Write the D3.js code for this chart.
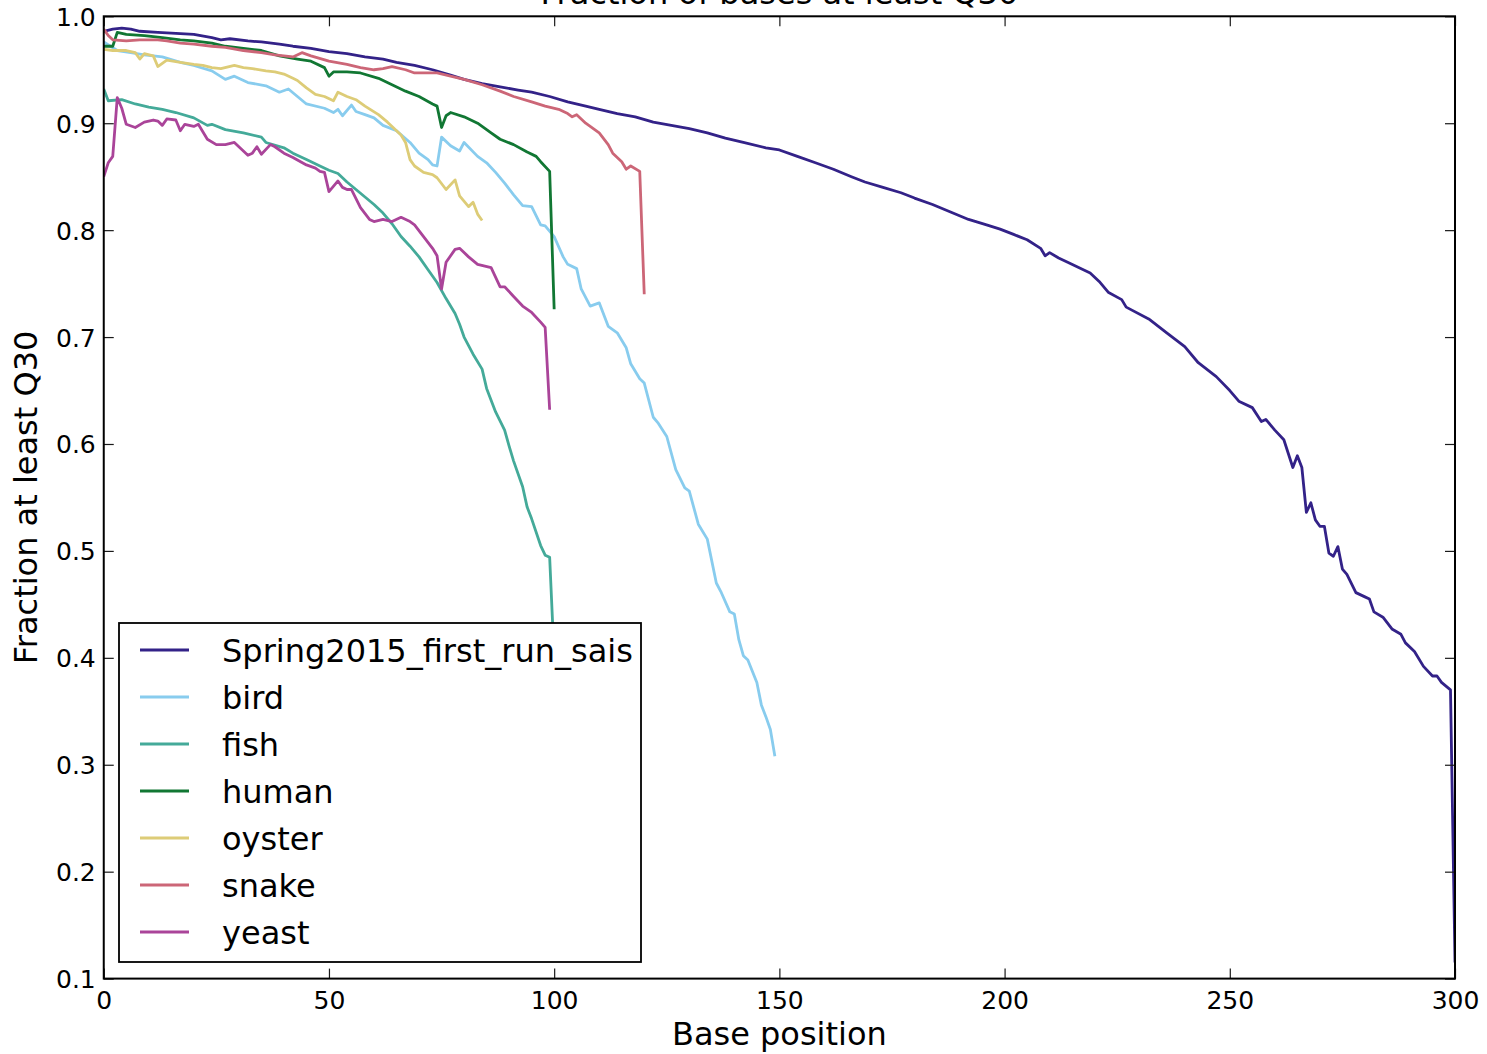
<!DOCTYPE html>
<html>
<head>
<meta charset="utf-8">
<script src="https://cdn.jsdelivr.net/npm/d3@7"></script>
<style>
  html, body { margin: 0; padding: 0; background: #fff; }
  svg { display: block; font-family: "DejaVu Sans", sans-serif; }
</style>
</head>
<body>
<svg id="chart" width="1487" height="1054"></svg>
<script>
// Per-base fraction of reads at or above Q30, one [position, fraction] list per sample.
const spring2015 = [[0,0.986],[2,0.988],[4,0.989],[6,0.988],[8,0.986],[12,0.985],[16,0.984],[20,0.983],[24,0.980],[26,0.978],[28,0.979],[32,0.977],[35,0.976],[39,0.974],[42,0.972],[46,0.970],[50,0.967],[54,0.965],[58,0.962],[62,0.960],[65,0.957],[69,0.954],[73,0.950],[77,0.945],[80,0.941],[84,0.937],[88,0.934],[92,0.931],[95,0.929],[99,0.925],[103,0.920],[107,0.916],[110,0.913],[114,0.909],[118,0.906],[122,0.901],[126,0.898],[130,0.895],[134,0.891],[138,0.886],[142,0.882],[147,0.877],[150,0.875],[154,0.869],[158,0.863],[162,0.857],[166,0.850],[169,0.845],[173,0.840],[177,0.835],[180,0.830],[184,0.824],[188,0.817],[192,0.810],[196,0.805],[199,0.801],[202,0.796],[205,0.791],[208,0.783],[209,0.776],[210,0.779],[212,0.774],[214,0.770],[219,0.760],[221,0.752],[223,0.742],[226,0.735],[227,0.728],[232,0.717],[236,0.704],[240,0.691],[243,0.676],[247,0.663],[250,0.650],[252,0.640],[255,0.634],[257,0.621],[258,0.623],[260,0.613],[262,0.604],[264,0.578],[265,0.589],[266,0.578],[267,0.536],[268,0.545],[269,0.529],[270,0.523],[271,0.523],[272,0.498],[273,0.495],[274,0.504],[275,0.483],[276,0.478],[278,0.461],[280,0.457],[281,0.455],[282,0.443],[284,0.438],[286,0.427],[288,0.422],[289,0.414],[291,0.406],[293,0.392],[295,0.383],[296,0.383],[297,0.377],[299,0.370],[300,0.115]];

const bird = [[0,0.976],[3,0.968],[6,0.966],[9,0.964],[13,0.962],[17,0.957],[20,0.954],[24,0.949],[27,0.941],[29,0.944],[32,0.938],[36,0.935],[39,0.929],[41,0.932],[43,0.925],[45,0.918],[49,0.914],[51,0.910],[52,0.913],[53,0.907],[55,0.917],[56,0.911],[58,0.908],[60,0.905],[62,0.898],[65,0.893],[68,0.882],[70,0.872],[72,0.866],[73,0.861],[74,0.860],[75,0.887],[77,0.879],[79,0.874],[80,0.882],[83,0.869],[85,0.863],[87,0.854],[89,0.844],[91,0.833],[93,0.823],[95,0.822],[97,0.805],[98,0.804],[100,0.794],[102,0.775],[103,0.768],[105,0.764],[106,0.745],[108,0.729],[110,0.732],[112,0.710],[114,0.704],[116,0.690],[117,0.675],[119,0.661],[120,0.657],[122,0.625],[123,0.620],[125,0.607],[127,0.576],[129,0.559],[130,0.556],[132,0.525],[134,0.511],[136,0.470],[137,0.462],[139,0.443],[140,0.441],[141,0.417],[142,0.402],[143,0.398],[145,0.377],[146,0.356],[147,0.345],[148,0.333],[149,0.308]];

const fish = [[0,0.932],[1,0.921],[4,0.922],[7,0.918],[10,0.915],[13,0.913],[16,0.910],[20,0.905],[23,0.898],[24,0.899],[27,0.894],[31,0.891],[35,0.887],[36,0.882],[40,0.877],[42,0.872],[45,0.866],[48,0.860],[50,0.856],[52,0.853],[54,0.845],[56,0.838],[58,0.831],[60,0.824],[62,0.816],[64,0.806],[66,0.794],[68,0.785],[70,0.775],[72,0.763],[74,0.751],[76,0.736],[78,0.722],[79,0.712],[80,0.700],[82,0.684],[84,0.670],[85,0.652],[87,0.630],[89,0.613],[90,0.598],[91,0.584],[93,0.560],[94,0.541],[95,0.530],[97,0.505],[98,0.496],[99,0.494],[100,0.400]];

const human = [[0,0.972],[2,0.972],[3,0.985],[5,0.983],[9,0.982],[13,0.980],[17,0.978],[20,0.977],[24,0.975],[27,0.972],[31,0.970],[35,0.968],[39,0.963],[43,0.960],[46,0.958],[49,0.952],[50,0.944],[51,0.948],[54,0.948],[57,0.947],[61,0.942],[64,0.936],[67,0.930],[70,0.925],[73,0.918],[74,0.916],[75,0.896],[76,0.907],[77,0.910],[80,0.906],[83,0.900],[86,0.891],[88,0.885],[91,0.880],[94,0.873],[96,0.869],[97,0.864],[99,0.855],[100,0.726]];

const oyster = [[0,0.969],[2,0.968],[5,0.968],[7,0.966],[8,0.960],[9,0.965],[11,0.963],[12,0.953],[14,0.959],[17,0.957],[20,0.955],[22,0.954],[24,0.952],[26,0.951],[29,0.954],[31,0.952],[33,0.951],[36,0.949],[38,0.948],[40,0.946],[42,0.942],[43,0.940],[45,0.933],[47,0.927],[49,0.925],[51,0.921],[52,0.929],[54,0.925],[56,0.922],[58,0.916],[61,0.908],[63,0.901],[65,0.893],[66,0.889],[67,0.882],[68,0.866],[69,0.860],[71,0.854],[73,0.852],[74,0.849],[76,0.838],[78,0.847],[79,0.832],[81,0.822],[82,0.826],[83,0.815],[84,0.809]];

const snake = [[0,0.988],[1,0.982],[2,0.978],[5,0.977],[8,0.978],[12,0.978],[14,0.977],[17,0.975],[20,0.974],[24,0.972],[27,0.971],[31,0.968],[35,0.966],[38,0.964],[42,0.962],[44,0.966],[46,0.963],[50,0.958],[54,0.955],[57,0.952],[60,0.950],[62,0.951],[64,0.953],[67,0.950],[69,0.947],[72,0.947],[74,0.947],[77,0.944],[80,0.941],[84,0.936],[88,0.930],[91,0.925],[95,0.920],[98,0.916],[101,0.913],[103,0.909],[104,0.906],[105,0.908],[107,0.900],[110,0.891],[112,0.880],[113,0.872],[115,0.864],[116,0.857],[117,0.860],[119,0.855],[120,0.740]];

const yeast = [[0,0.850],[1,0.863],[2,0.869],[3,0.924],[4,0.914],[5,0.899],[7,0.896],[9,0.901],[11,0.903],[12,0.902],[13,0.898],[14,0.904],[16,0.903],[17,0.893],[18,0.899],[20,0.897],[21,0.899],[22,0.892],[23,0.885],[25,0.880],[27,0.880],[29,0.882],[31,0.874],[32,0.870],[33,0.872],[34,0.878],[35,0.871],[37,0.880],[38,0.878],[40,0.872],[42,0.868],[45,0.861],[47,0.858],[48,0.855],[49,0.854],[50,0.836],[52,0.846],[53,0.840],[54,0.838],[55,0.838],[57,0.821],[59,0.810],[60,0.808],[62,0.810],[64,0.808],[66,0.812],[68,0.808],[69,0.805],[71,0.794],[73,0.783],[74,0.776],[75,0.745],[76,0.770],[78,0.782],[79,0.783],[81,0.775],[83,0.768],[86,0.765],[88,0.747],[89,0.747],[91,0.738],[93,0.729],[95,0.723],[97,0.714],[98,0.709],[99,0.632]];

const seriesNames = ["Spring2015_first_run_sais", "bird", "fish", "human", "oyster", "snake", "yeast"];
const seriesValues = [spring2015, bird, fish, human, oyster, snake, yeast];
const seriesColors = ["#332288", "#88CCEE", "#44AA99", "#117733", "#DDCC77", "#CC6677", "#AA4499"];

const xTicks = [0, 50, 100, 150, 200, 250, 300];
const yTicks = [0.1, 0.2, 0.3, 0.4, 0.5, 0.6, 0.7, 0.8, 0.9, 1.0];

const titleText = "Fraction of bases at least Q30";
const xLabelText = "Base position";
const yLabelText = "Fraction at least Q30";

// Plot frame
const plot = { left: 103.75, right: 1455, top: 16.3, bottom: 978.6 };

const svg = d3.select("#chart");
const x = d3.scaleLinear().domain([0, 300]).range([plot.left, plot.right]);
const y = d3.scaleLinear().domain([0.1, 1.0]).range([plot.bottom, plot.top]);

svg.append("defs").append("clipPath").attr("id", "plot-clip")
  .append("rect")
  .attr("x", plot.left).attr("y", plot.top)
  .attr("width", plot.right - plot.left).attr("height", plot.bottom - plot.top);

// Data lines
const line = d3.line().x(d => x(d[0])).y(d => y(d[1]));
svg.append("g").attr("clip-path", "url(#plot-clip)")
  .selectAll("path")
  .data(seriesValues)
  .join("path")
  .attr("d", line)
  .attr("fill", "none")
  .attr("stroke", (d, i) => seriesColors[i])
  .attr("stroke-width", 2.8)
  .attr("stroke-linejoin", "round");

// Inward ticks on all four sides
const tickLen = 10;
function styleAxis(g) {
  g.select(".domain").remove();
  g.selectAll(".tick line").attr("stroke", "#1a1a1a").attr("stroke-width", 1.2);
}

const gBottom = svg.append("g")
  .attr("transform", `translate(0,${plot.bottom})`)
  .call(d3.axisBottom(x).tickValues(xTicks).tickSize(-tickLen).tickFormat(d3.format("d")))
  .call(styleAxis);
gBottom.selectAll(".tick text")
  .attr("y", 30).attr("dy", null)
  .attr("fill", "#000")
  .style("font-size", "25px")
  .style("font-family", "'DejaVu Sans', sans-serif");

svg.append("g")
  .attr("transform", `translate(0,${plot.top})`)
  .call(d3.axisTop(x).tickValues(xTicks).tickSize(-tickLen).tickFormat(""))
  .call(styleAxis);

const gLeft = svg.append("g")
  .attr("transform", `translate(${plot.left},0)`)
  .call(d3.axisLeft(y).tickValues(yTicks).tickSize(-tickLen).tickFormat(d3.format(".1f")))
  .call(styleAxis);
gLeft.selectAll(".tick text")
  .attr("x", -8).attr("dy", "0.36em")
  .attr("fill", "#000")
  .style("font-size", "25px")
  .style("font-family", "'DejaVu Sans', sans-serif");

svg.append("g")
  .attr("transform", `translate(${plot.right},0)`)
  .call(d3.axisRight(y).tickValues(yTicks).tickSize(-tickLen).tickFormat(""))
  .call(styleAxis);

// Frame
svg.append("rect")
  .attr("x", plot.left).attr("y", plot.top)
  .attr("width", plot.right - plot.left).attr("height", plot.bottom - plot.top)
  .attr("fill", "none").attr("stroke", "#000").attr("stroke-width", 2);

// Title and axis labels
svg.append("text")
  .attr("x", (plot.left + plot.right) / 2).attr("y", 4)
  .attr("text-anchor", "middle")
  .style("font-size", "32px")
  .text(titleText);

svg.append("text")
  .attr("x", (plot.left + plot.right) / 2).attr("y", 1045)
  .attr("text-anchor", "middle")
  .style("font-size", "32px")
  .text(xLabelText);

svg.append("text")
  .attr("transform", `translate(37,${(plot.top + plot.bottom) / 2}) rotate(-90)`)
  .attr("text-anchor", "middle")
  .style("font-size", "32px")
  .text(yLabelText);

// Legend
const legend = { x: 119, y: 623, w: 522, h: 339, firstRow: 650, rowStep: 47 };
const gLegend = svg.append("g");
gLegend.append("rect")
  .attr("x", legend.x).attr("y", legend.y)
  .attr("width", legend.w).attr("height", legend.h)
  .attr("fill", "#fff").attr("stroke", "#000").attr("stroke-width", 1.8);

const rows = gLegend.selectAll("g.row")
  .data(seriesNames)
  .join("g")
  .attr("class", "row")
  .attr("transform", (d, i) => `translate(0,${legend.firstRow + i * legend.rowStep})`);
rows.append("line")
  .attr("x1", 140).attr("x2", 189)
  .attr("y1", 0).attr("y2", 0)
  .attr("stroke", (d, i) => seriesColors[i])
  .attr("stroke-width", 3.2);
rows.append("text")
  .attr("x", 222).attr("y", 11.5)
  .style("font-size", "32px")
  .text(d => d);
</script>
</body>
</html>
